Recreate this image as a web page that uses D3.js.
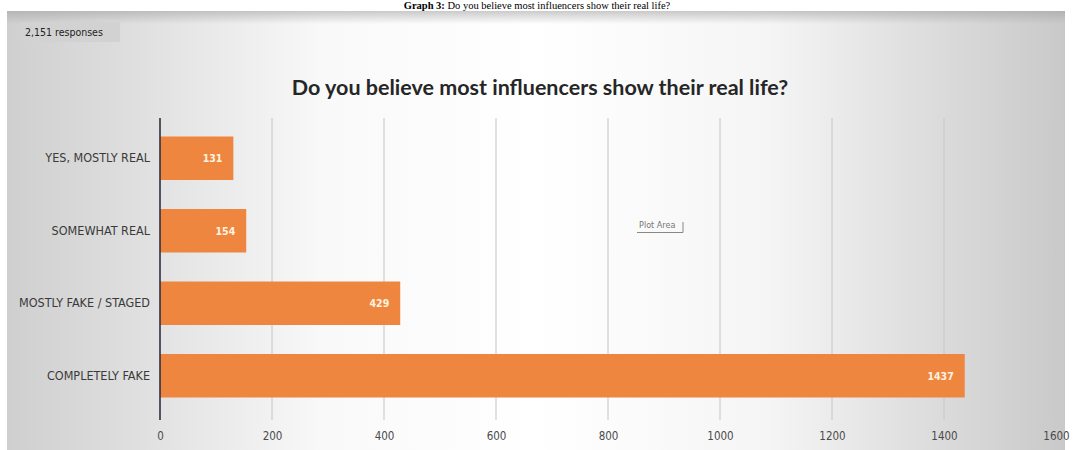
<!DOCTYPE html>
<html>
<head>
<meta charset="utf-8">
<script src="https://cdn.jsdelivr.net/npm/d3@7"></script>
<style>
  html, body { margin: 0; padding: 0; background: #fff; }
  svg { display: block; }
</style>
</head>
<body>
<script>
// Survey answers and counts
const categories = ["YES, MOSTLY REAL", "SOMEWHAT REAL", "MOSTLY FAKE / STAGED", "COMPLETELY FAKE"];
const counts = [131, 154, 429, 1437];
const tickValues = [0, 200, 400, 600, 800, 1000, 1200, 1400, 1600];
const responsesLabel = "2,151 responses";
const chartTitle = "Do you believe most influencers show their real life?";

const W = 1073, H = 450;
const narrow = "'DejaVu Sans Condensed', 'Liberation Sans', sans-serif";
const svg = d3.select("body").append("svg").attr("width", W).attr("height", H);
const defs = svg.append("defs");

// Horizontal grey-white-grey backdrop of the chart panel
const bg = defs.append("linearGradient").attr("id", "bg").attr("x1", 0).attr("x2", 1).attr("y1", 0).attr("y2", 0);
[[0, "#cfcfcf"], [0.1, "#dcdcdc"], [0.3, "#f9f9f9"], [0.5, "#ffffff"], [0.72, "#f5f5f5"], [0.85, "#e0e0e0"], [1, "#c9c9c9"]]
  .forEach(([o, c]) => bg.append("stop").attr("offset", o).attr("stop-color", c));

const topBand = defs.append("linearGradient").attr("id", "topband").attr("x1", 0).attr("x2", 0).attr("y1", 0).attr("y2", 1);
[[0, "rgba(160,160,160,0.55)"], [1, "rgba(160,160,160,0)"]]
  .forEach(([o, c]) => topBand.append("stop").attr("offset", o).attr("stop-color", c));

const panel = { x: 7, y: 11, w: 1058, h: 439 };
svg.append("rect").attr("x", panel.x).attr("y", panel.y).attr("width", panel.w).attr("height", panel.h).attr("fill", "url(#bg)");
svg.append("rect").attr("x", panel.x).attr("y", panel.y).attr("width", panel.w).attr("height", 13).attr("fill", "url(#topband)");

// Document caption above the panel
const cap = svg.append("text")
  .attr("x", 537).attr("y", 9).attr("text-anchor", "middle")
  .attr("font-family", "'Liberation Serif', 'DejaVu Serif', serif").attr("font-size", 10.5).attr("fill", "#000");
cap.append("tspan").attr("font-weight", "bold").text("Graph 3:");
cap.append("tspan").text(" Do you believe most influencers show their real life?");

// Response count badge
svg.append("rect").attr("x", 21).attr("y", 22).attr("width", 99).attr("height", 20).attr("fill", "#d2d2d2");
svg.append("text").attr("x", 25).attr("y", 36)
  .attr("font-family", narrow).attr("font-size", 10.5)
  .attr("fill", "#222").text(responsesLabel);

// Title
svg.append("text").attr("x", 540).attr("y", 95).attr("text-anchor", "middle")
  .attr("font-family", "Lato, 'Open Sans', sans-serif").attr("font-weight", "bold")
  .attr("font-size", 21.5).attr("fill", "#262626").text(chartTitle);

// Scales
const x = d3.scaleLinear().domain([0, 1600]).range([160, 1056]);
const y = d3.scaleBand().domain(categories).range([122, 412]).paddingInner(0.4).paddingOuter(0.2);

const plotTop = 118, plotBottom = 420;

// Vertical gridlines
svg.append("g").selectAll("line").data(tickValues.slice(1)).join("line")
  .attr("x1", d => x(d)).attr("x2", d => x(d))
  .attr("y1", plotTop).attr("y2", plotBottom)
  .attr("stroke", "#c8c8c8").attr("stroke-width", 1.1);

// Bars
svg.append("g").selectAll("rect").data(counts).join("rect")
  .attr("x", x(0)).attr("y", (d, i) => y(categories[i]))
  .attr("width", d => x(d) - x(0)).attr("height", y.bandwidth())
  .attr("fill", "#ef8640");

// Value labels inside bar ends
svg.append("g").selectAll("text").data(counts).join("text")
  .attr("x", d => x(d) - 11).attr("y", (d, i) => y(categories[i]) + y.bandwidth() / 2 + 4)
  .attr("text-anchor", "end")
  .attr("font-family", narrow).attr("font-weight", "bold")
  .attr("font-size", 10.5).attr("fill", "#fff3e0").text(d => d);

// Category axis (left)
const yAxis = svg.append("g").attr("transform", `translate(${x(0)},0)`)
  .call(d3.axisLeft(y).tickSize(0).tickPadding(10));
yAxis.select(".domain").remove();
yAxis.selectAll("text")
  .attr("font-family", narrow)
  .attr("font-size", 12.5).attr("fill", "#3a3a3a");
svg.append("line").attr("x1", x(0)).attr("x2", x(0)).attr("y1", plotTop).attr("y2", plotBottom)
  .attr("stroke", "#303040").attr("stroke-width", 1.6);

// Value axis labels (bottom)
const xAxis = svg.append("g").attr("transform", `translate(0,${plotBottom})`)
  .call(d3.axisBottom(x).tickValues(tickValues).tickFormat(d3.format("d")).tickSize(0).tickPadding(12));
xAxis.select(".domain").remove();
xAxis.selectAll("text")
  .attr("font-family", narrow)
  .attr("font-size", 11.5).attr("fill", "#4a4a4a");

// Hover tag in the plot area
svg.append("text").attr("x", 639).attr("y", 228)
  .attr("font-family", narrow)
  .attr("font-size", 9).attr("fill", "#777").text("Plot Area");
svg.append("path").attr("d", "M637,232.5H683V222").attr("fill", "none").attr("stroke", "#888").attr("stroke-width", 1);
</script>
</body>
</html>
